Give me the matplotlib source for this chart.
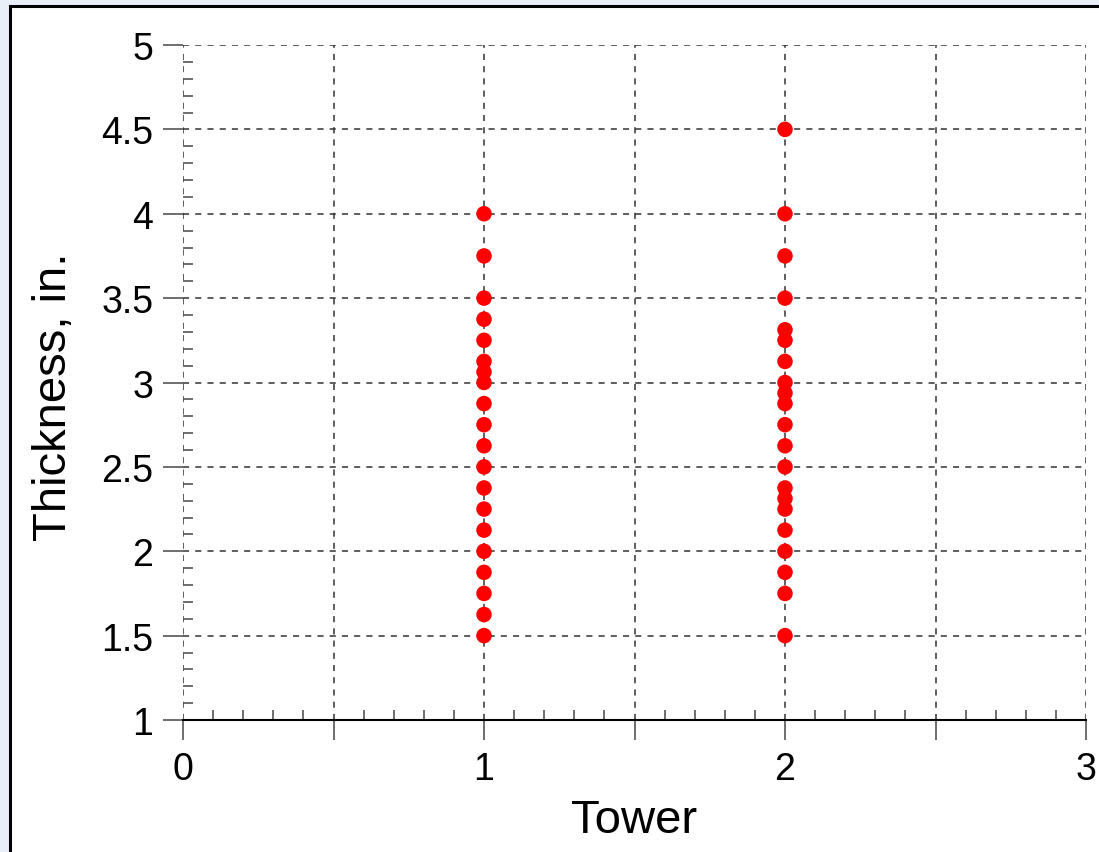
import numpy as np
import matplotlib
matplotlib.use("Agg")
import matplotlib.pyplot as plt
from matplotlib.patches import Rectangle
from matplotlib.ticker import MultipleLocator, FuncFormatter

# thickness readings per tower (in.)
tower_1 = [4.0, 3.75, 3.5, 3.375, 3.25, 3.125, 3.0625, 3.0, 2.875, 2.75,
           2.625, 2.5, 2.375, 2.25, 2.125, 2.0, 1.875, 1.75, 1.625, 1.5]
tower_2 = [4.5, 4.0, 3.75, 3.5, 3.3125, 3.25, 3.125, 3.0, 2.9375, 2.875,
           2.75, 2.625, 2.5, 2.375, 2.3125, 2.25, 2.125, 2.0, 1.875, 1.75, 1.5]
towers = [1, 2]
thickness = [tower_1, tower_2]

plt.rcParams["font.family"] = ["Liberation Sans", "DejaVu Sans"]

fig = plt.figure(figsize=(10.99, 8.53), dpi=100)
fig.patch.set_facecolor("#e9eff8")

# white panel with black frame (cut off at right/bottom like the original)
frame = Rectangle((10 / 1099, -0.05), 1.2, 1.05 - 7 / 853, transform=fig.transFigure,
                  facecolor="white", edgecolor="black", lw=2.2, zorder=-10)
fig.patches.append(frame)

ax = fig.add_axes([183 / 1099, 1 - 721 / 853, (1086 - 183) / 1099, (721 - 46) / 853])
ax.set_facecolor("none")

for t, vals in zip(towers, thickness):
    ax.scatter(np.full(len(vals), t), vals, s=125, color="#ff0000", edgecolors="none",
               zorder=3, clip_on=False)

ax.set_xlim(0, 3)
ax.set_ylim(1, 5)

ax.xaxis.set_major_locator(MultipleLocator(0.5))
ax.xaxis.set_minor_locator(MultipleLocator(0.1))
ax.yaxis.set_major_locator(MultipleLocator(0.5))
ax.yaxis.set_minor_locator(MultipleLocator(0.1))
ax.xaxis.set_major_formatter(FuncFormatter(lambda v, p: f"{v:g}" if abs(v - round(v)) < 1e-6 else ""))
ax.yaxis.set_major_formatter(FuncFormatter(lambda v, p: f"{v:g}"))

ax.tick_params(which="major", direction="out", length=14.4, width=1.2, color="#555555",
               labelsize=27, pad=7)
ax.tick_params(axis="x", which="major", pad=8)
ax.tick_params(which="minor", direction="in", length=7.2, width=1.2, color="#555555")

for s in ["top", "right", "left"]:
    ax.spines[s].set_visible(False)
ax.spines["bottom"].set_linewidth(1.5)

ax.grid(True, which="major", linestyle=(0, (4, 4)), color="#333333", lw=1.1)
ax.set_axisbelow(True)

ax.set_xlabel("Tower", fontsize=34)
ax.set_ylabel("Thickness, in.", fontsize=34)
ax.xaxis.set_label_coords(0.5, -0.115)
ax.yaxis.set_label_coords(-0.119, 0.481)

fig.savefig("out.png", dpi=100, facecolor=fig.get_facecolor())
